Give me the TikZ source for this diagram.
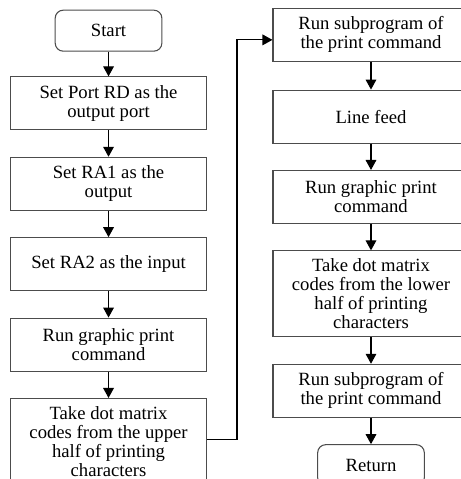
\documentclass[tikz,border=0pt]{standalone}
\usepackage{fontspec}
\setmainfont{Liberation Serif}
\usetikzlibrary{shapes,arrows.meta,positioning}
\tikzset{%
procbox/.style={rectangle, draw=black!70, line width=0.8pt, minimum width=147pt, minimum height=39.75pt, inner sep=2pt, align=center, font=\fontsize{14}{14.2}\selectfont},
termbox/.style={rectangle, rounded corners=6pt, draw=black!70, line width=0.8pt, minimum width=80pt, minimum height=30.75pt, font=\fontsize{14}{14.2}\selectfont},
tallbox/.style={procbox, minimum height=64.5pt},
flow/.style={draw=black, line width=0.9pt, -{Triangle[length=7.5pt,width=8pt]}}
}
\begin{document}
\begin{tikzpicture}[node distance=19.75pt]
		\useasboundingbox (0,0) rectangle (345.75pt,-359.25pt);
		\node[termbox] (start) at (81.4pt,-23pt) {Start};
		\node[procbox] (portrd) [below=18.5pt of start] {Set Port RD as the\\output port};
		\node[procbox] (raone) [below=of portrd] {Set RA1 as the\\output};
		\node[procbox] (ratwo) [below=of raone] {Set RA2 as the input};
		\node[procbox] (gfxone) [below=of ratwo] {Run graphic print\\command};
		\node[tallbox] (upper) [below=of gfxone] {Take dot matrix\\codes from the upper\\half of printing\\characters};
		
		\node[procbox] (subone) at (278.25pt,-25.9pt) {Run subprogram of\\the print command};
		\node[procbox] (linefeed) [below=21pt of subone] {Line feed};
		\node[procbox] (gfxtwo) [below=of linefeed] {Run graphic print\\command};
		\node[tallbox] (lower) [below=of gfxtwo] {Take dot matrix\\codes from the lower\\half of printing\\characters};
		\node[procbox] (subtwo) [below=of lower] {Run subprogram of\\the print command};
		\node[termbox] (return) [below=of subtwo] {Return};
		
		\path[flow] (start) edge (portrd);
		\path[flow] (portrd) edge (raone);
		\path[flow] (raone) edge (ratwo);
		\path[flow] (ratwo) edge (gfxone);
		\path[flow] (gfxone) edge (upper);
		\draw[flow] ([yshift=1.5pt]upper.east) -- ++(22.5pt,0) |- ([yshift=-4pt]subone.west);
		\path[flow] (subone) edge (linefeed);
		\path[flow] (linefeed) edge (gfxtwo);
		\path[flow] (gfxtwo) edge (lower);
		\path[flow] (lower) edge (subtwo);
		\path[flow] (subtwo) edge (return);
	\end{tikzpicture}
\end{document}
